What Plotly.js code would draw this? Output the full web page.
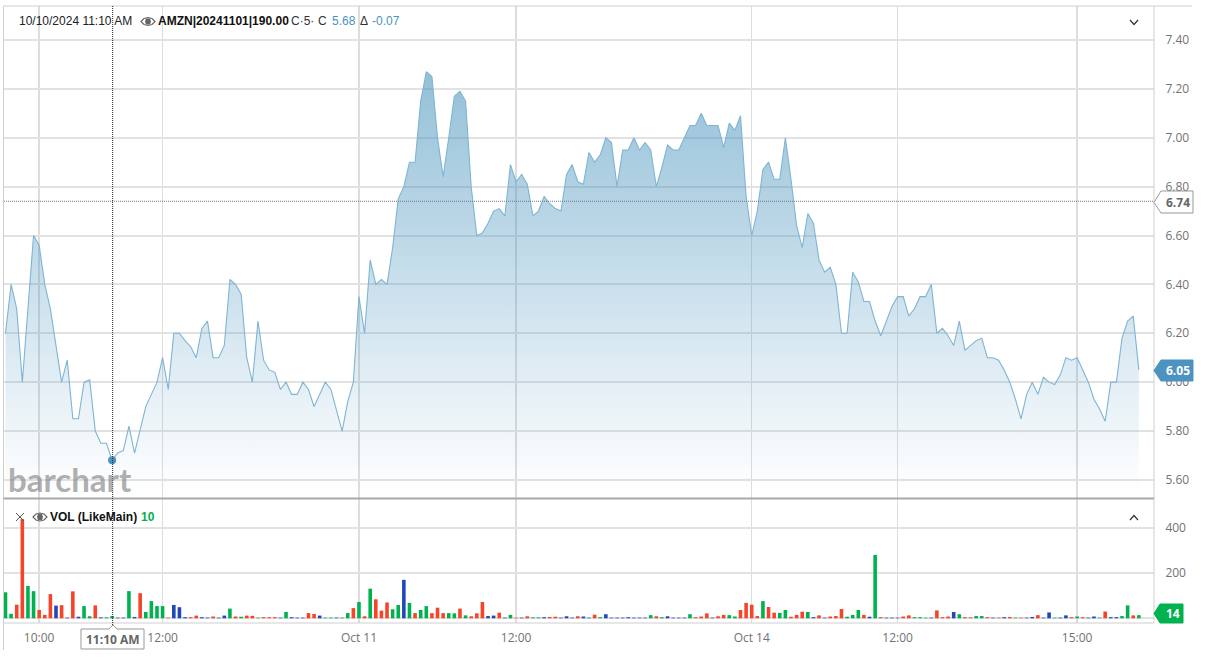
<!DOCTYPE html>
<html><head><meta charset="utf-8">
<script src="https://cdn.plot.ly/plotly-3.0.1.min.js"></script>
<style>html,body{margin:0;padding:0;background:#fff}#c{width:1210px;height:659px}</style>
</head><body><div id="c"></div>
<script>
const closeValues = [6.20,6.40,6.30,6.00,6.30,6.60,6.56,6.40,6.30,6.145,6.00,6.09,5.85,5.85,6.00,6.01,5.80,5.75,5.75,5.68,
5.71,5.72,5.82,5.71,5.80,5.90,5.95,6.00,6.10,5.97,6.20,6.20,6.17,6.145,6.10,6.22,6.25,6.10,6.10,6.15,
6.42,6.40,6.36,6.10,6.00,6.25,6.09,6.05,6.04,5.97,6.00,5.95,5.95,6.00,5.97,5.90,5.95,6.00,5.97,5.88,
5.80,5.92,6.00,6.35,6.20,6.50,6.40,6.42,6.40,6.55,6.75,6.80,6.90,6.90,7.15,7.27,7.25,7.00,6.84,7.00,
7.17,7.19,7.15,6.80,6.60,6.61,6.65,6.70,6.71,6.68,6.89,6.82,6.85,6.81,6.68,6.70,6.76,6.73,6.71,6.70,
6.85,6.89,6.82,6.81,6.94,6.90,6.93,7.00,6.98,6.80,6.95,6.95,7.00,6.95,6.98,6.95,6.80,6.88,6.97,6.95,
6.95,7.00,7.05,7.05,7.10,7.05,7.05,7.05,6.96,7.06,7.03,7.09,6.76,6.60,6.70,6.87,6.90,6.83,6.83,7.00,
6.83,6.64,6.55,6.69,6.65,6.50,6.45,6.47,6.40,6.20,6.20,6.45,6.41,6.33,6.33,6.25,6.19,6.25,6.31,6.35,
6.35,6.27,6.30,6.35,6.35,6.40,6.20,6.22,6.19,6.15,6.25,6.13,6.15,6.17,6.18,6.10,6.10,6.09,6.05,6.00,
5.93,5.85,5.95,6.00,5.95,6.02,6.00,5.99,6.03,6.10,6.09,6.10,6.05,6.00,5.93,5.89,5.84,6.00,6.00,6.18,
6.25,6.27,6.05];
const volumeValues = [115,20,60,438,143,120,37,15,107,56,58,3,119,7,54,9,57,4,4,10,
3,3,120,6,111,28,76,54,54,3,59,49,5,5,12,5,3,8,3,12,
43,8,7,12,11,3,5,5,5,3,28,5,3,3,23,19,12,3,3,3,
3,23,45,72,9,131,84,34,70,40,59,170,68,23,37,54,23,47,23,23,
22,43,13,9,22,72,10,12,25,3,15,3,3,9,4,4,5,6,7,3,
9,3,9,8,3,16,5,18,3,3,3,5,3,3,3,14,9,5,9,3,
3,3,18,5,8,22,3,9,15,14,8,37,68,60,10,76,50,25,24,37,
7,15,29,28,5,13,3,8,10,41,7,15,37,15,7,280,5,3,3,3,
8,13,5,5,3,3,35,5,8,28,18,5,4,10,10,5,3,3,5,6,
3,3,3,6,14,3,26,3,3,13,5,8,5,3,8,3,30,5,5,10,
57,13,14];
const volumeDirections = ["ggrrggrrrb","rbrbggrbgg","bbgbrggggr","bbbrrbbrbb","grgrrgrrrb",
"gbbbrrbggb","ggrgrgrrrg","gbgrggrrrg","grgrrrbbrb","grbrggbrrb",
"bbrbbrgbbb","bbbbbgrgbb","bbgrrrbrrg","grrrrgrrgg","rrrgbrbrrr",
"gggrbgrbbb","rrgggbrrrb","grrggrbrbr","grbbrbbgbb","rgrbbgrbbg","grg"];
const timeTickIndex = [6,28,63,91,133,159,191];
const timeTickLabels = ["10:00","12:00","Oct 11","12:00","Oct 14","12:00","15:00"];
const priceTicks = [5.6,5.8,6.0,6.2,6.4,6.6,6.8,7.0,7.2,7.4];
const volumeTicks = [0,200,400];

const dirs = volumeDirections.join("");
const x = closeValues.map((_,i)=>i);
const colorOf = {g:"#00b14f",r:"#f4452b",b:"#2147b8"};
const tickFont = {family:"Open Sans",size:12,color:"#727272"};
const blue="#4c93c1";
const traces=[
 {type:"scatter",mode:"lines",x,y:closeValues,xaxis:"x",yaxis:"y",
  line:{color:"#7fb4d3",width:1.1},fill:"tozeroy",
  fillgradient:{type:"vertical",start:5.55,stop:7.27,colorscale:[[0,"rgba(60,140,185,0.0)"],[1,"rgba(60,140,185,0.55)"]]},
  hoverinfo:"skip"},
 {type:"scatter",mode:"markers",x:[19],y:[closeValues[19]],xaxis:"x",yaxis:"y",marker:{color:blue,size:8},hoverinfo:"skip"},
 {type:"bar",x,y:volumeValues,xaxis:"x2",yaxis:"y2",marker:{color:x.map(i=>colorOf[dirs[i]]),line:{width:0}},hoverinfo:"skip"}
];
const ann=(t,px,py,o={})=>Object.assign({text:t,xref:"paper",yref:"paper",x:(px-6)/1150,y:(623-py)/617,xanchor:"left",yanchor:"middle",showarrow:false,
  font:{family:"Liberation Sans",size:12,color:"#222"}},o);
const psh=(path,o={})=>Object.assign({type:"path",xref:"paper",yref:"paper",path,line:{color:"#aaa",width:1}},o);
const X=p=>((p-4)/1150).toFixed(5), Y=p=>((623-p)/617).toFixed(5);
const poly=(pts,close=true)=>"M"+pts.map(([a,b])=>X(a)+","+Y(b)).join("L")+(close?"Z":"");
const eye=(cx,cy)=>[
 psh(poly([[cx-7,cy],[cx-4,cy-3],[cx,cy-4],[cx+4,cy-3],[cx+7,cy],[cx+4,cy+3],[cx,cy+4],[cx-4,cy+3]]),{line:{color:"#666",width:1.2},fillcolor:"#fff"}),
 psh(poly([[cx-3,cy],[cx-2,cy-3],[cx+2,cy-3],[cx+3,cy],[cx+2,cy+3],[cx-2,cy+3]]),{line:{width:0},fillcolor:"#666"})];
const line=(x0,y0,x1,y1,color,width)=>({type:"line",xref:"paper",yref:"paper",x0:X(x0),x1:X(x1),y0:Y(y0),y1:Y(y1),line:{color,width}});
const shapes=[
 line(3.5,6,1192,6,"#cfcfcf",1),
 line(3.5,6,3.5,650,"#cfcfcf",1),
 line(1154,6,1154,623,"#cfcfcf",1),
 line(3.5,623,1154,623,"#cfcfcf",1),
 line(3.5,498.5,1154,498.5,"#a9a9a9",2),
 {type:"line",xref:"paper",yref:"y",x0:0,x1:1,y0:6.74,y1:6.74,line:{color:"#777",width:1,dash:"1px,1px"}},
 {type:"line",xref:"x",yref:"paper",x0:19.1,x1:19.1,y0:Y(645),y1:1,line:{color:"#222",width:1,dash:"1px,1px"}},
 psh(poly([[1154,202.5],[1161,191],[1193,191],[1193,213],[1161,213]]),{fillcolor:"#fff",line:{color:"#999",width:1}}),
 psh(poly([[1154,370.5],[1161,360],[1193,360],[1193,381],[1161,381]]),{fillcolor:blue,line:{color:blue,width:1}}),
 psh(poly([[1154,613.5],[1160,604],[1183,604],[1183,623],[1160,623]]),{fillcolor:"#00b14f",line:{color:"#00b14f",width:1}}),
 psh(poly([[81,629],[109,629],[113,625],[117,629],[144,629],[144,649],[81,649]]),{fillcolor:"#fff",line:{color:"#999",width:1}}),
 psh(poly([[1130,20],[1134,24.5],[1138,20]],false),{line:{color:"#333",width:1.2}}),
 psh(poly([[1130,520],[1134,515.5],[1138,520]],false),{line:{color:"#333",width:1.2}}),
 psh(poly([[16,513],[24,521]],false),{line:{color:"#555",width:1}}),
 psh(poly([[24,513],[16,521]],false),{line:{color:"#555",width:1}}),
 ...eye(148,21.5),...eye(40,517)
];
const annotations=[
 ann("10/10/2024 11:10 AM",19,21.5),
 ann("<b>AMZN|20241101|190.00</b>",158,21.5,{font:{family:"Liberation Sans",size:12,color:"#111"}}),
 ann("C·5·",291,21.5,{font:{family:"Liberation Sans",size:12,color:"#333"}}),
 ann("C",318,21.5,{font:{family:"Liberation Sans",size:12,color:"#333"}}),
 ann("5.68",332,21.5,{font:{family:"Liberation Sans",size:12,color:blue}}),
 ann("Δ",360,21.5,{font:{family:"Liberation Sans",size:12,color:"#333"}}),
 ann("-0.07",372,21.5,{font:{family:"Liberation Sans",size:12,color:blue}}),
 ann("<b>VOL (LikeMain)</b>",50,517,{font:{family:"Liberation Sans",size:12,color:"#111"}}),
 ann("<b>10</b>",141,517,{font:{family:"Liberation Sans",size:12,color:"#00b14f"}}),
 ann("<b>barchart</b>",8,478.5,{font:{family:"Lato",size:33,color:"rgba(130,130,130,0.65)"}}),
 ann("<b>6.74</b>",1166,202.5,{font:{family:"Open Sans",size:12,color:"#666"}}),
 ann("<b>6.05</b>",1166,370.5,{font:{family:"Open Sans",size:12,color:"#fff"}}),
 ann("<b>14</b>",1166,613.5,{font:{family:"Open Sans",size:12,color:"#fff"}}),
 ann("<b>11:10 AM</b>",112.5,639,{xanchor:"center",x:(112.5-4)/1150,font:{family:"Open Sans",size:12,color:"#666"}})
];
const xRange=[-0.267,204.7];
const layout={width:1210,height:659,margin:{l:4,r:56,t:6,b:36},paper_bgcolor:"#fff",plot_bgcolor:"#fff",showlegend:false,bargap:0.36,
 xaxis:{domain:[0,1],range:xRange,anchor:"y",tickvals:timeTickIndex,ticktext:timeTickLabels.map(()=>""),showgrid:true,gridcolor:"#dddddd",gridwidth:1.5,zeroline:false,ticks:"",showline:false},
 xaxis2:{domain:[0,1],range:xRange,anchor:"y2",tickmode:"array",tickvals:timeTickIndex,ticktext:timeTickLabels,tickfont:tickFont,showgrid:true,gridcolor:"#dddddd",gridwidth:1.5,zeroline:false,ticks:"outside",ticklen:4,tickcolor:"rgba(0,0,0,0)",showline:false},
 yaxis:{domain:[0.2026,1],range:[5.526,7.539],side:"right",anchor:"x",tickmode:"array",tickvals:priceTicks,ticktext:priceTicks.map(v=>v.toFixed(2)),tickfont:tickFont,gridcolor:"#e2e2e2",gridwidth:2,zeroline:false,showline:false,ticks:"outside",ticklen:8,tickcolor:"rgba(0,0,0,0)"},
 yaxis2:{domain:[0,0.201],range:[-20.7,527],side:"right",anchor:"x2",tickmode:"array",tickvals:volumeTicks,ticktext:volumeTicks.map(v=>v?String(v):""),tickfont:tickFont,gridcolor:"#e2e2e2",gridwidth:2,zeroline:false,showline:false,ticks:"outside",ticklen:8,tickcolor:"rgba(0,0,0,0)"},
 shapes,annotations
};
Plotly.newPlot("c",traces,layout,{displayModeBar:false,staticPlot:true});
</script>
</body></html>
